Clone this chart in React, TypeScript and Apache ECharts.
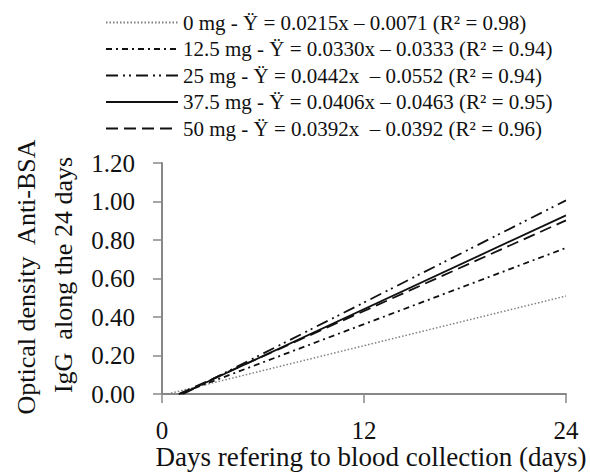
import React, { useEffect, useRef } from "react";
import * as echarts from "echarts";

const seriesNames = [
  "0 mg - Ÿ = 0.0215x – 0.0071 (R² = 0.98)",
  "12.5 mg - Ÿ = 0.0330x – 0.0333 (R² = 0.94)",
  "25 mg - Ÿ = 0.0442x  – 0.0552 (R² = 0.94)",
  "37.5 mg - Ÿ = 0.0406x – 0.0463 (R² = 0.95)",
  "50 mg - Ÿ = 0.0392x  – 0.0392 (R² = 0.96)",
];
// start/end points of each fitted line (day, optical density)
const line0mg = [[0.33, 0], [24, 0.509]];
const line12mg = [[1.01, 0], [24, 0.759]];
const line25mg = [[1.25, 0], [24, 1.006]];
const line37mg = [[1.14, 0], [24, 0.928]];
const line50mg = [[1.0, 0], [24, 0.902]];
const xTicks = [0, 12, 24];
const yTicks = [0, 0.2, 0.4, 0.6, 0.8, 1.0, 1.2];

const FONT = "serif";

export default function App() {
  const ref = useRef<HTMLDivElement>(null);
  useEffect(() => {
    if (!ref.current) return;
    const chart = echarts.init(ref.current, undefined, { renderer: "svg" });
    const dataSets = [line0mg, line12mg, line25mg, line37mg, line50mg];
    const styles = [
      { color: "#808080", width: 1.5, type: [1.5, 2] as any },
      { color: "#111", width: 1.8, type: [6, 4, 2, 4] as any },
      { color: "#111", width: 1.8, type: [12, 5, 2, 4, 2, 5] as any },
      { color: "#111", width: 1.8, type: "solid" as any },
      { color: "#111", width: 1.8, type: [12, 6] as any },
    ];
    chart.setOption({
      animation: false,
      backgroundColor: "#fff",
      textStyle: { fontFamily: FONT },
      grid: { left: 162, right: 24, top: 163, bottom: 80, containLabel: false },
      legend: {
        orient: "vertical",
        left: 100,
        top: 7,
        itemWidth: 72,
        itemHeight: 14,
        itemGap: 5.5,
        itemStyle: { opacity: 0 },
        textStyle: { fontFamily: FONT, fontSize: 21, color: "#111" },
        data: seriesNames,
      },
      xAxis: {
        type: "value",
        min: xTicks[0],
        max: xTicks[xTicks.length - 1],
        interval: 12,
        axisLine: { show: true, lineStyle: { color: "#888", width: 2 } },
        axisTick: { show: true, length: 9, lineStyle: { color: "#888", width: 1.5 } },
        axisLabel: { fontFamily: FONT, fontSize: 25, color: "#111", margin: 27, lineHeight: 18 },
        splitLine: { show: false },
      },
      yAxis: {
        type: "value",
        min: yTicks[0],
        max: yTicks[yTicks.length - 1],
        interval: 0.2,
        axisLine: { show: true, lineStyle: { color: "#888", width: 2 } },
        axisTick: { show: true, length: 9, lineStyle: { color: "#888", width: 1.5 } },
        axisLabel: {
          fontFamily: FONT,
          fontSize: 25,
          color: "#111",
          margin: 27,
          formatter: (v: number) => v.toFixed(2),
        },
        splitLine: { show: false },
      },
      series: seriesNames.map((name, i) => ({
        name,
        type: "line",
        data: dataSets[i],
        symbol: "none",
        showSymbol: false,
        lineStyle: styles[i],
        itemStyle: { color: styles[i].color },
        z: 3,
      })),
      graphic: [
        {
          type: "text",
          x: 26,
          y: 277,
          rotation: Math.PI / 2,
          style: {
            text: "Optical density  Anti-BSA",
            font: `26px ${FONT}`,
            fill: "#111",
            textAlign: "center",
            textVerticalAlign: "middle",
          },
        },
        {
          type: "text",
          x: 63,
          y: 275,
          rotation: Math.PI / 2,
          style: {
            text: "IgG  along the 24 days",
            font: `26px ${FONT}`,
            fill: "#111",
            textAlign: "center",
            textVerticalAlign: "middle",
          },
        },
        {
          type: "text",
          x: 371,
          y: 457,
          style: {
            text: "Days refering to blood collection (days)",
            font: `27px ${FONT}`,
            fill: "#111",
            textAlign: "center",
            textVerticalAlign: "middle",
          },
        },
      ],
    });
    return () => chart.dispose();
  }, []);
  return (
    <div
      ref={ref}
      style={{ position: "fixed", left: 0, top: 0, width: 590, height: 474 }}
    />
  );
}
